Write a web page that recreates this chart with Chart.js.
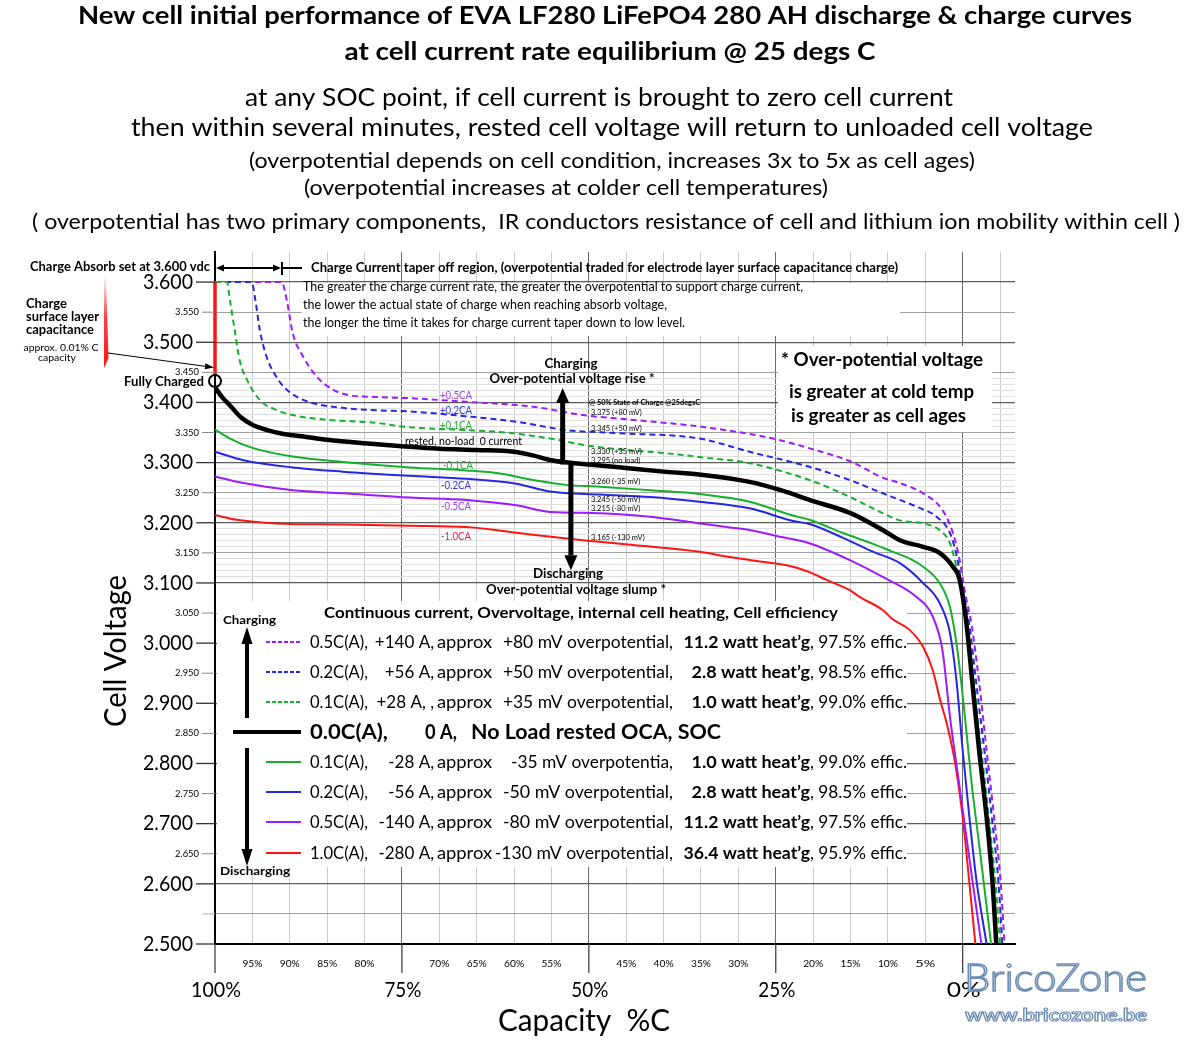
<!DOCTYPE html>
<html>
<head>
<meta charset="utf-8">
<script src="https://cdn.jsdelivr.net/npm/chart.js@4.4.0/dist/chart.umd.min.js"></script>
<style>
  html, body { margin: 0; padding: 0; background: #fff; }
</style>
</head>
<body>
<canvas id="cellChart" width="1200" height="1058"></canvas>
<script>
// axis ranges (capacity % runs right to left)
const X_MIN = -7, X_MAX = 100, Y_MIN = 2.5, Y_MAX = 3.65;

// series: [capacity %, cell voltage]
const chargeHalfC = [[100,3.6],[91.1,3.6],[90.4,3.570],[89.6,3.515],[88.2,3.476],[86.4,3.443],[84.2,3.421],[82,3.412],[78.4,3.409],[73.9,3.407],[66.4,3.401],[57.5,3.393],[50.8,3.379],[44.1,3.371],[35.2,3.360],[25.4,3.340],[20,3.322],[15,3.302],[10.7,3.275],[8.4,3.266],[5.3,3.249],[2.7,3.221],[1.3,3.183],[0.4,3.138],[-0.3,3.085],[-1.2,3.030],[-2.2,2.935],[-3.2,2.822],[-4.2,2.711],[-5.1,2.600],[-5.6,2.5]];
const chargeFifthC = [[100,3.6],[95.1,3.6],[94.6,3.570],[94,3.520],[93.1,3.476],[91.5,3.437],[90,3.417],[87.5,3.401],[83,3.391],[78.4,3.387],[74,3.385],[66.4,3.377],[59.7,3.368],[53,3.354],[46.3,3.349],[35.2,3.340],[28.5,3.318],[20.5,3.293],[15.1,3.271],[10.7,3.249],[8.4,3.238],[6.2,3.227],[3.5,3.210],[1.7,3.183],[0.8,3.145],[0.1,3.095],[-0.9,3.030],[-1.8,2.935],[-2.9,2.822],[-3.9,2.711],[-4.8,2.600],[-5.3,2.5]];
const chargeTenthC = [[100,3.6],[98.4,3.6],[98,3.570],[97.3,3.515],[96.7,3.470],[95.7,3.437],[94,3.404],[91.7,3.387],[89.6,3.379],[85,3.371],[78.3,3.366],[75,3.360],[66.4,3.354],[61.9,3.351],[55.2,3.340],[50,3.328],[45,3.321],[40,3.316],[35,3.309],[28.5,3.299],[20.5,3.271],[15.1,3.243],[10.7,3.216],[8.4,3.204],[5.3,3.199],[3.1,3.188],[1.7,3.166],[0.8,3.125],[0.2,3.090],[-0.7,3.030],[-1.5,2.935],[-2.5,2.822],[-3.5,2.711],[-4.4,2.600],[-5.0,2.5]];
const restedOCV = [[100,3.425],[99,3.408],[98,3.395],[96.5,3.375],[95,3.363],[93,3.354],[91,3.348],[88,3.343],[85,3.338],[80,3.332],[75,3.327],[70,3.323],[65,3.321],[60,3.318],[57.5,3.312],[55,3.304],[52,3.299],[50,3.297],[45,3.291],[40,3.285],[35,3.280],[28.5,3.268],[24,3.253],[20.5,3.238],[15,3.216],[10.7,3.188],[8.4,3.171],[5.3,3.160],[3.1,3.150],[1.3,3.127],[0.4,3.105],[-0.5,3.033],[-1.3,2.934],[-2.2,2.822],[-3.2,2.711],[-4.0,2.601],[-4.5,2.5]];
const dischargeTenthC = [[100,3.355],[98,3.340],[94.9,3.324],[89.6,3.310],[82.9,3.301],[73.9,3.292],[66.4,3.287],[61.9,3.282],[57.5,3.271],[53,3.263],[48.5,3.260],[41.8,3.254],[35.2,3.248],[28.5,3.235],[22.7,3.212],[20.5,3.205],[16,3.183],[12,3.165],[9.4,3.152],[7,3.140],[5.3,3.127],[3.1,3.100],[1.7,3.060],[0.7,2.988],[-0.3,2.878],[-1.2,2.767],[-2.3,2.656],[-3.8,2.5]];
const dischargeFifthC = [[100,3.318],[96.2,3.304],[89.6,3.292],[82.9,3.285],[73.9,3.278],[66.4,3.273],[59.7,3.265],[55.2,3.252],[48.5,3.247],[41.8,3.243],[35.2,3.235],[28.5,3.224],[22.7,3.203],[20.5,3.198],[16,3.175],[12,3.152],[8.4,3.133],[5.3,3.100],[3.1,3.067],[1.7,3.017],[0.8,2.934],[0,2.822],[-0.9,2.711],[-1.8,2.610],[-3.2,2.5]];
const dischargeHalfC = [[100,3.277],[96.2,3.266],[89.6,3.254],[82.9,3.249],[73.9,3.242],[66.4,3.238],[59.7,3.229],[55.2,3.218],[48.5,3.216],[41.8,3.210],[35.2,3.199],[31.6,3.193],[28.5,3.188],[24.9,3.178],[20.5,3.166],[15.1,3.138],[10.7,3.110],[6.2,3.077],[4,3.044],[2.7,2.988],[1.7,2.878],[0.4,2.760],[-0.9,2.642],[-2.5,2.5]];
const dischargeOneC = [[100,3.213],[97.1,3.205],[91.8,3.199],[82.9,3.197],[73.9,3.195],[66.4,3.193],[57.5,3.180],[50.8,3.171],[44.1,3.163],[35.2,3.152],[31.6,3.144],[28.5,3.138],[22.7,3.127],[20.5,3.118],[18.2,3.105],[15.1,3.088],[13.8,3.077],[10.7,3.055],[9.4,3.040],[7.1,3.022],[5.3,2.994],[4,2.955],[3,2.905],[2,2.860],[1,2.800],[0,2.711],[-0.9,2.601],[-1.7,2.5]];
const surfaceCap = [[100,3.6],[100,3.445]];
const fullyCharged = [[100,3.4355]];

// tick labels
const yMajorTicks = [3.6,3.5,3.4,3.3,3.2,3.1,3.0,2.9,2.8,2.7,2.6,2.5];
const yMinorLabels = [3.55,3.45,3.35,3.25,3.15,3.05,2.95,2.85,2.75,2.65];
const xMajorTicks = [100,75,50,25,0];
const xMinorLabels = [95,90,85,80,70,65,60,55,45,40,35,30,20,15,10,5];

const PURPLE = '#9b1cff', BLUE = '#2626e6', GREEN = '#16b02c', RED = '#ff1414';
const FONT = 'Lato, "Open Sans", sans-serif';

const pts = a => a.map(([x, y]) => ({ x, y }));

// text helper: optional target width squeezes/stretches horizontally
function txt(c, s, x, y, size, opts) {
  opts = opts || {};
  c.save();
  c.font = (opts.bold ? 'bold ' : '') + size + 'px ' + FONT;
  c.fillStyle = opts.color || '#000';
  c.textAlign = opts.align || 'left';
  c.textBaseline = opts.baseline || 'alphabetic';
  let sx = 1;
  if (opts.w) sx = opts.w / c.measureText(s).width;
  c.translate(x, y);
  if (opts.rot) c.rotate(opts.rot);
  c.scale(sx, 1);
  c.fillText(s, 0, 0);
  c.restore();
}

function arrow(c, x1, y1, x2, y2, w, hl, hw, color) {
  const a = Math.atan2(y2 - y1, x2 - x1);
  const bx = x2 - Math.cos(a) * hl, by = y2 - Math.sin(a) * hl;
  c.save();
  c.strokeStyle = color; c.fillStyle = color; c.lineWidth = w;
  c.beginPath(); c.moveTo(x1, y1); c.lineTo(bx, by); c.stroke();
  c.beginPath(); c.moveTo(x2, y2);
  c.lineTo(bx + Math.sin(a) * hw / 2, by - Math.cos(a) * hw / 2);
  c.lineTo(bx - Math.sin(a) * hw / 2, by + Math.cos(a) * hw / 2);
  c.closePath(); c.fill();
  c.restore();
}

function yGridColor(v) {
  const k = Math.round(v * 100);
  if (k === 365 || k === 250) return 'rgba(0,0,0,0)';
  if (k % 10 === 0) return '#5e5e5e';
  if (k % 5 === 0) return '#a0a0a0';
  if (k > 310 && k < 345) return '#e0e0e0';
  return 'rgba(0,0,0,0)';
}

// legend rows inside the white box
const legendRows = [
  { color: PURPLE, dash: true, a: '0.5C(A),', b: '+140 A,', c: 'approx', d: '+80 mV overpotential,', e: '11.2 watt heat\u2019g', f: ', 97.5% effic.' },
  { color: BLUE, dash: true, a: '0.2C(A),', b: '+56 A,', c: 'approx', d: '+50 mV overpotential,', e: '2.8 watt heat\u2019g', f: ', 98.5% effic.' },
  { color: GREEN, dash: true, a: '0.1C(A),', b: '+28 A, ,', c: 'approx', d: '+35 mV overpotential,', e: '1.0 watt heat\u2019g', f: ', 99.0% effic.' },
  null,
  { color: GREEN, a: '0.1C(A),', b: '-28 A,', c: 'approx', d: '-35 mV overpotentia,', e: '1.0 watt heat\u2019g', f: ', 99.0% effic.' },
  { color: BLUE, a: '0.2C(A),', b: '-56 A,', c: 'approx', d: '-50 mV overpotential,', e: '2.8 watt heat\u2019g', f: ', 98.5% effic.' },
  { color: PURPLE, a: '0.5C(A),', b: '-140 A,', c: 'approx', d: '-80 mV overpotential,', e: '11.2 watt heat\u2019g', f: ', 97.5% effic.' },
  { color: RED, a: '1.0C(A),', b: '-280 A,', c: 'approx', d: '-130 mV overpotential,', e: '36.4 watt heat\u2019g', f: ', 95.9% effic.' }
];

const annotate = {
  id: 'annotate',
  beforeDatasetsDraw(chart) {
    const c = chart.ctx;
    c.save();
    c.fillStyle = '#fff';
    c.fillRect(302, 283, 598, 53);   // taper note
    c.fillRect(778, 346, 214, 86);   // over-potential note
    c.fillRect(217, 601, 690, 266);  // legend box
    c.restore();
  },
  afterDatasetsDraw(chart) {
    const c = chart.ctx;
    const xs = chart.scales.x, ys = chart.scales.y;
    const X = v => xs.getPixelForValue(v), Y = v => ys.getPixelForValue(v);

    // over-potential arrows at 50% SOC
    arrow(c, X(53.5), Y(3.297), X(53.5), Y(3.424), 5, 15, 13, '#000');
    arrow(c, X(52.4), Y(3.297), X(52.4), Y(3.121), 5, 15, 13, '#000');

    txt(c, 'Charging', 571, 368, 12.5, { bold: true, align: 'center', w: 53 });
    txt(c, 'Over-potential voltage rise *', 572, 383, 12.5, { bold: true, align: 'center', w: 165 });
    txt(c, 'Discharging', 568, 578, 12.5, { bold: true, align: 'center', w: 70 });
    txt(c, 'Over-potential voltage slump *', 576, 594, 12.5, { bold: true, align: 'center', w: 180 });

    // curve labels
    txt(c, '+0.5CA', 440, 399, 11, { color: '#a040ff', w: 32 });
    txt(c, '+0.2CA', 440, 414, 11, { color: '#3535ee', w: 32 });
    txt(c, '+0.1CA', 440, 429, 11, { color: '#22b033', w: 32 });
    txt(c, 'rested, no-load  0 current', 405, 445, 11, { w: 117 });
    txt(c, '-0.1CA', 443, 469, 11, { color: '#22b033', w: 30 });
    txt(c, '-0.2CA', 441, 489, 11, { color: '#3535ee', w: 30 });
    txt(c, '-0.5CA', 441, 510, 11, { color: '#a040ff', w: 30 });
    txt(c, '-1.0CA', 441, 540, 11, { color: '#ee2060', w: 30 });

    // values at 50% SOC
    txt(c, '@ 50% State of Charge @25degsC', 589, 405, 7.5, { bold: true, w: 111 });
    const vals = [['3.375 (+80 mV)', 415], ['3.345 (+50 mV)', 431], ['3.330 (+35 mV)', 454], ['3.295 (no load)', 463],
                  ['3.260 (-35 mV)', 484], ['3.245 (-50 mV)', 502], ['3.215 (-80 mV)', 511], ['3.165 (-130 mV)', 540]];
    vals.forEach(([s, y]) => txt(c, s, 591, y, 7.5, {}));

    // top notes
    txt(c, 'Charge Absorb set at 3.600 vdc', 30, 271, 12.5, { bold: true, w: 180 });
    arrow(c, 250, 268, 216, 268, 2, 8, 7, '#000');
    arrow(c, 250, 268, 281, 268, 2, 8, 7, '#000');
    c.save(); c.strokeStyle = '#000'; c.lineWidth = 2;
    c.beginPath(); c.moveTo(281, 268); c.lineTo(302, 268); c.moveTo(282, 262); c.lineTo(282, 275); c.stroke();
    c.restore();
    txt(c, 'Charge Current taper off region, (overpotential traded for electrode layer surface capacitance charge)', 311, 272, 12.5, { bold: true, w: 587 });
    txt(c, 'The greater the charge current rate, the greater the overpotential to support charge current,', 303, 291, 12.5, { w: 500 });
    txt(c, 'the lower the actual state of charge when reaching absorb voltage,', 303, 309, 12.5, { w: 364 });
    txt(c, 'the longer the time it takes for charge current taper down to low level.', 303, 327, 12.5, { w: 382 });

    // surface capacitance callout
    txt(c, 'Charge', 26, 308, 13, { bold: true, w: 41 });
    txt(c, 'surface layer', 26, 321, 13, { bold: true, w: 73 });
    txt(c, 'capacitance', 26, 334, 13, { bold: true, w: 68 });
    txt(c, 'approx. 0.01% C', 61, 351, 9, { align: 'center', w: 75 });
    txt(c, 'capacity', 57, 361, 9, { align: 'center', w: 38 });
    c.save();
    const g = c.createLinearGradient(0, 275, 0, 368);
    g.addColorStop(0, 'rgba(255,20,20,0)');
    g.addColorStop(0.45, 'rgba(255,20,20,0.8)');
    g.addColorStop(1, '#ff1414');
    c.fillStyle = g;
    c.beginPath(); c.moveTo(104, 276); c.lineTo(106, 276); c.lineTo(108.5, 358); c.lineTo(104, 368); c.closePath(); c.fill();
    c.restore();
    arrow(c, 108, 353, X(100) - 1, Y(3.458), 1, 9, 6, '#000');
    txt(c, 'Fully Charged', 124, 386, 13, { bold: true, w: 80 });

    // over-potential note
    txt(c, '* Over-potential voltage', 781, 366, 18, { bold: true, w: 202 });
    txt(c, 'is greater at cold temp', 789, 398, 18, { bold: true, w: 185 });
    txt(c, 'is greater as cell ages', 791, 422, 18, { bold: true, w: 175 });

    // legend box
    txt(c, 'Continuous current, Overvoltage, internal cell heating, Cell efficiency', 324, 618, 15.5, { bold: true, w: 514 });
    txt(c, 'Charging', 223, 624, 12, { bold: true, w: 53 });
    txt(c, 'Discharging', 220, 875, 12, { bold: true, w: 70 });
    arrow(c, 247, 718, 247, 627, 4, 17, 11, '#000');
    arrow(c, 247, 748, 247, 866, 4, 17, 11, '#000');
    const rowY = [642, 672, 702, 732, 762, 792, 822, 853];
    legendRows.forEach((r, i) => {
      const y = rowY[i];
      c.save();
      if (!r) {
        c.strokeStyle = '#000'; c.lineWidth = 4;
        c.beginPath(); c.moveTo(233, y); c.lineTo(301, y); c.stroke();
        c.restore();
        txt(c, '0.0C(A),', 310, y + 7, 20, { bold: true, w: 78 });
        txt(c, '0 A,', 425, y + 7, 20, { bold: true, w: 32 });
        txt(c, 'No Load rested OCA, SOC', 471, y + 7, 20, { bold: true, w: 250 });
        return;
      }
      c.strokeStyle = r.color; c.lineWidth = 2;
      if (r.dash) c.setLineDash([4, 2]);
      c.beginPath(); c.moveTo(266, y); c.lineTo(301, y); c.stroke();
      c.restore();
      const by = y + 6;
      txt(c, r.a, 310, by, 17, { w: 58 });
      txt(c, r.b, 434, by, 17, { align: 'right' });
      txt(c, r.c, 437, by, 17, { w: 55 });
      txt(c, r.d, 673, by, 17, { align: 'right', w: r.d.length * 8.1 });
      txt(c, r.e, 810, by, 17, { bold: true, align: 'right', w: r.e.length * 7.9 });
      txt(c, r.f, 810, by, 17, { w: 97 });
    });
  },
  afterDraw(chart) {
    const c = chart.ctx;
    const xs = chart.scales.x, ys = chart.scales.y;
    const X = v => xs.getPixelForValue(v), Y = v => ys.getPixelForValue(v);

    // header
    txt(c, 'New cell initial performance of EVA LF280 LiFePO4 280 AH discharge & charge curves', 605, 24, 25, { bold: true, align: 'center', w: 1054 });
    txt(c, 'at cell current rate equilibrium @ 25 degs C', 610, 60, 25, { bold: true, align: 'center', w: 531 });
    txt(c, 'at any SOC point, if cell current is brought to zero cell current', 599, 106, 25, { align: 'center', w: 708 });
    txt(c, 'then within several minutes, rested cell voltage will return to unloaded cell voltage', 612, 136, 25, { align: 'center', w: 962 });
    txt(c, '(overpotential depends on cell condition, increases 3x to 5x as cell ages)', 612, 168, 21, { align: 'center', w: 726 });
    txt(c, '(overpotential increases at colder cell temperatures)', 566, 195, 21, { align: 'center', w: 524 });
    txt(c, '( overpotential has two primary components,  IR conductors resistance of cell and lithium ion mobility within cell )', 606, 229, 21, { align: 'center', w: 1148 });

    // y ticks and labels
    c.save();
    yMajorTicks.forEach(v => {
      const y = Y(v);
      c.strokeStyle = '#333'; c.lineWidth = 1.3;
      c.beginPath(); c.moveTo(196, y); c.lineTo(215, y); c.stroke();
      txt(c, v.toFixed(3), 193, y, 21, { align: 'right', baseline: 'middle', w: 50 });
    });
    yMinorLabels.forEach(v => {
      const y = Y(v);
      c.strokeStyle = '#888'; c.lineWidth = 1;
      c.beginPath(); c.moveTo(202, y); c.lineTo(215, y); c.stroke();
      txt(c, v.toFixed(3), 199, y, 9.5, { align: 'right', baseline: 'middle', w: 24 });
    });
    c.strokeStyle = '#aaa';
    c.beginPath(); c.moveTo(203, Y(2.55)); c.lineTo(215, Y(2.55)); c.stroke();
    // x ticks and labels
    xMajorTicks.forEach(v => {
      const x = X(v);
      c.strokeStyle = '#444'; c.lineWidth = 1.3;
      c.beginPath(); c.moveTo(x, 944); c.lineTo(x, 973); c.stroke();
      txt(c, v + '%', x + 1, 997, 21, { align: 'center', w: v === 100 ? 50 : (v === 0 ? 34 : 37) });
    });
    xMinorLabels.forEach(v => {
      txt(c, v + '%', X(v), 967, 10, { align: 'center', w: 20 });
    });
    c.restore();

    // axis titles
    txt(c, 'Cell Voltage', 126, 651, 31, { align: 'center', rot: -Math.PI / 2, w: 152 });
    txt(c, 'Capacity  %C', 584, 1031, 31, { align: 'center', w: 172 });

    // watermark
    c.save();
    c.font = '300 37px ' + FONT;
    c.textAlign = 'left';
    let m = c.measureText('BricoZone').width;
    c.translate(964, 991); c.scale(183 / m, 1);
    c.fillStyle = '#fff'; c.fillText('BricoZone', 0, 0);
    c.strokeStyle = '#6b8db5'; c.lineWidth = 1.4; c.strokeText('BricoZone', 0, 0);
    c.restore();
    c.save();
    c.font = 'bold 17px ' + FONT;
    m = c.measureText('www.bricozone.be').width;
    c.translate(965, 1021); c.scale(182 / m, 1);
    c.fillStyle = '#fff'; c.fillText('www.bricozone.be', 0, 0);
    c.strokeStyle = '#5f83ad'; c.lineWidth = 1; c.strokeText('www.bricozone.be', 0, 0);
    c.restore();
  }
};

const curve = (data, color, width, dash) => ({
  data: pts(data), borderColor: color, borderWidth: width, borderDash: dash || [],
  pointRadius: 0, cubicInterpolationMode: 'monotone', fill: false
});

const ctx = document.getElementById('cellChart').getContext('2d');
const cellChart = new Chart(ctx, {
  type: 'line',
  data: {
    datasets: [
      { data: pts(fullyCharged), showLine: false, pointRadius: 6, pointBorderWidth: 2,
        pointBorderColor: '#000', pointBackgroundColor: 'rgba(255,255,255,0)', clip: false },
      { data: pts(surfaceCap), borderColor: RED, borderWidth: 3.5, pointRadius: 0, tension: 0, clip: false },
      curve(restedOCV, '#000', 4.5),
      curve(chargeTenthC, GREEN, 2, [6, 4]),
      curve(chargeFifthC, BLUE, 2, [6, 4]),
      curve(chargeHalfC, PURPLE, 2, [6, 4]),
      curve(dischargeTenthC, GREEN, 2),
      curve(dischargeFifthC, BLUE, 2),
      curve(dischargeHalfC, PURPLE, 2),
      curve(dischargeOneC, RED, 2)
    ]
  },
  options: {
    responsive: false,
    animation: false,
    devicePixelRatio: 1,
    layout: { padding: { top: 252, right: 185, bottom: 0, left: 0 }, autoPadding: false },
    plugins: { legend: { display: false }, tooltip: { enabled: false }, title: { display: false } },
    scales: {
      x: {
        type: 'linear', min: X_MIN, max: X_MAX, reverse: true,
        afterBuildTicks: s => { s.ticks = []; for (let v = 100; v >= -5; v -= 5) s.ticks.push({ value: v }); },
        afterFit: s => { s.height = 114; },
        ticks: { display: false },
        grid: { drawTicks: false, color: g => (g.tick && g.tick.value % 25 === 0) ? '#6a6a6a' : '#cccccc', lineWidth: 1 },
        border: { display: true, color: '#000', width: 2 }
      },
      y: {
        type: 'linear', min: Y_MIN, max: Y_MAX,
        afterBuildTicks: s => { s.ticks = []; for (let k = 250; k <= 365; k++) s.ticks.push({ value: k / 100 }); },
        afterFit: s => { s.width = 215; },
        ticks: { display: false },
        grid: { drawTicks: false, color: g => g.tick ? yGridColor(g.tick.value) : 'rgba(0,0,0,0)',
                lineWidth: g => (g.tick && Math.round(g.tick.value * 100) % 10 === 0) ? 1.2 : 1 },
        border: { display: true, color: '#000', width: 2 }
      }
    }
  },
  plugins: [annotate]
});
</script>
</body>
</html>
